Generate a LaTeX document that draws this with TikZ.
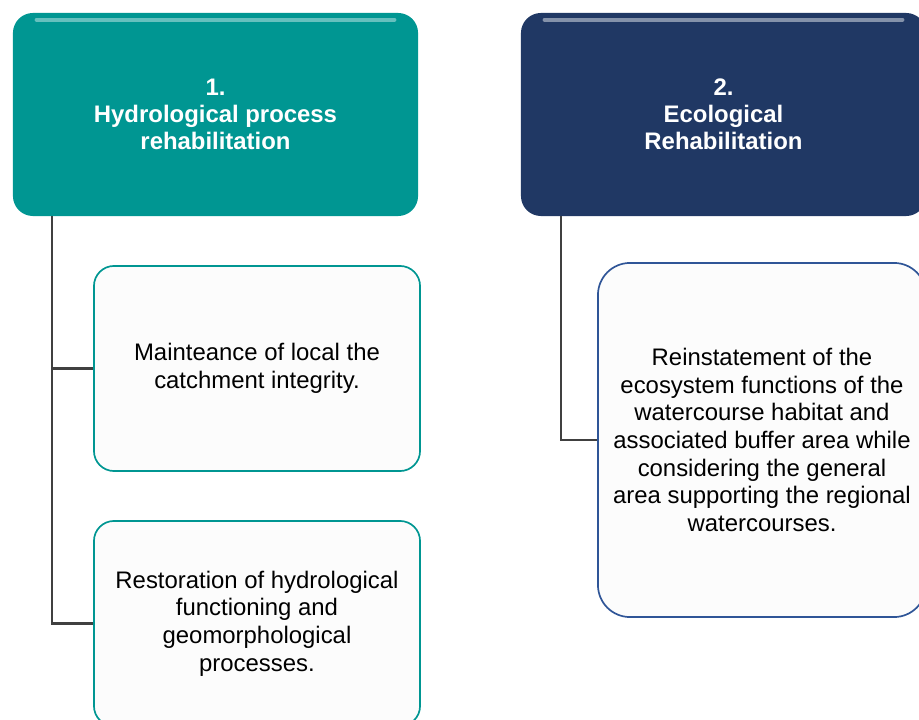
\documentclass[tikz,border=0pt]{standalone}
\usepackage{fontspec}
\setmainfont{Liberation Sans}
\usetikzlibrary{calc,positioning}
\definecolor{HydroTeal}{RGB}{0,150,146}
\definecolor{EcoNavy}{RGB}{32,56,100}
\definecolor{EcoBlue}{RGB}{47,85,151}
\definecolor{LinkGray}{RGB}{64,64,64}
\definecolor{BoxWhite}{RGB}{252,252,252}
\tikzset{
  head/.style={rounded corners=0.5cm,minimum width=10.125cm,minimum height=5.075cm,
    align=center,text=white,inner sep=0pt,font=\fontsize{17}{19.2}\selectfont\bfseries},
  sub/.style={fill=BoxWhite,line width=1.2pt,rounded corners=0.5cm,align=center,
    inner sep=0pt,font=\fontsize{17}{19.6}\selectfont},
  link/.style={LinkGray,line width=1.6pt}
}
\begin{document}
\begin{tikzpicture}[x=0.025cm,y=-0.025cm]
\useasboundingbox (0,0) rectangle (919,720);
% headers
\node[head,fill=HydroTeal] (hydro) at (215.5,114.5) {1.\\Hydrological process\\rehabilitation};
\node[head,fill=EcoNavy] (eco) at (723.5,114.5) {2.\\Ecological\\Rehabilitation};
\foreach \hd/\tint in {hydro/HydroTeal!60!white,eco/EcoNavy!55!white}
  \draw[\tint,line width=3pt,line cap=round] ($(\hd.north west)+(24,7)$)--($(\hd.north east)+(-24,7)$);
% sub boxes
\node[sub,draw=HydroTeal,minimum width=8.15cm,minimum height=5.125cm] (catch) at (257,368.5) {Mainteance of local the\\catchment integrity.};
\node[sub,draw=HydroTeal,minimum width=8.15cm,minimum height=5.125cm] (restore) at (257,623.5) {Restoration of hydrological\\functioning and\\geomorphological\\processes.};
\node[sub,draw=EcoBlue,rounded corners=0.8cm,minimum width=8.2cm,minimum height=8.85cm] (habitat) at (762,440) {Reinstatement of the\\ecosystem functions of the\\watercourse habitat and\\associated buffer area while\\considering the general\\area supporting the regional\\watercourses.};
% links
\draw[link] ($(hydro.south west)+(39,0)$) |- (restore.west);
\draw[link] ($(hydro.south west)+(39,0)$) |- (catch.west);
\draw[link] ($(eco.south west)+(40,0)$) |- (habitat.west);
\end{tikzpicture}
\end{document}
